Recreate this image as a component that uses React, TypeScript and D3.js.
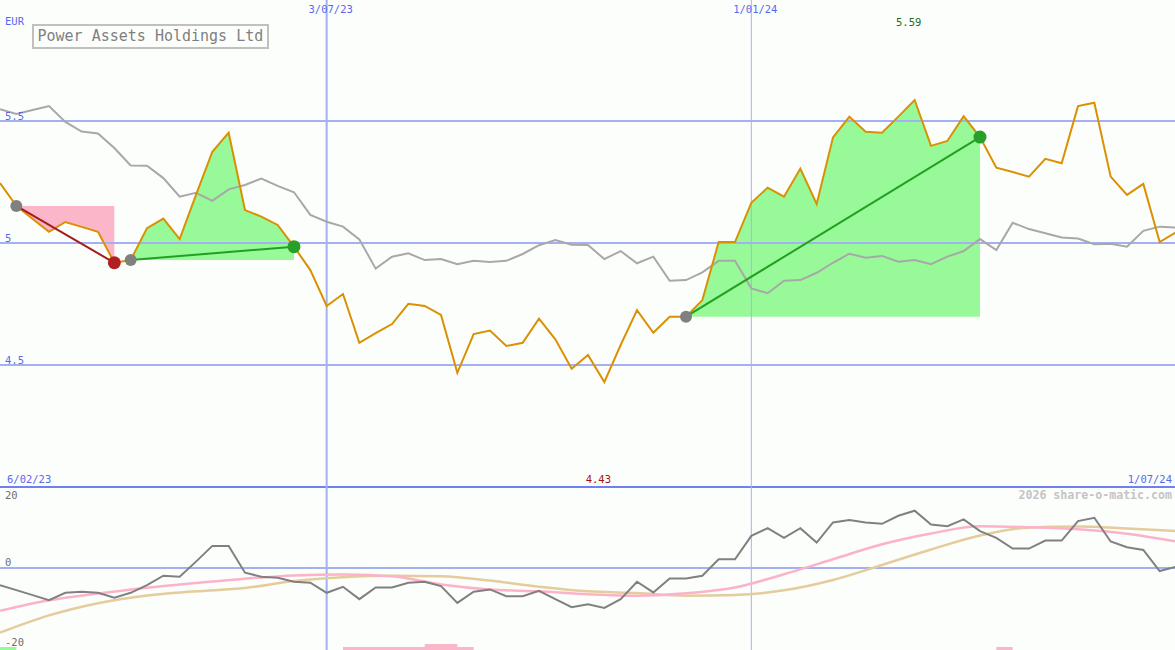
import * as d3 from 'd3';

// weekly closes, index 0 = first week on the chart
const price = [
  5.246, 5.152, 5.098, 5.046, 5.086, 5.066, 5.046, 4.919, 4.93, 5.061,
  5.1, 5.016, 5.197, 5.374, 5.452, 5.135, 5.108, 5.074, 4.985, 4.889,
  4.742, 4.791, 4.591, 4.631, 4.668, 4.751, 4.742, 4.705, 4.468, 4.627,
  4.641, 4.578, 4.591, 4.69, 4.605, 4.485, 4.541, 4.43, 4.582, 4.725,
  4.632, 4.698, 4.698, 4.766, 5.004, 5.004, 5.165, 5.227, 5.19, 5.305,
  5.16, 5.433, 5.518, 5.456, 5.452, 5.518, 5.586, 5.398, 5.418, 5.52,
  5.434, 5.309, 5.291, 5.272, 5.345, 5.327, 5.561, 5.575, 5.272, 5.197,
  5.242, 5.004, 5.044,
];

// relative-strength comparison line (grey), same scale as price
const relative = [
  5.548, 5.529, 5.545, 5.561, 5.496, 5.457, 5.449, 5.389, 5.318, 5.317,
  5.266, 5.19, 5.206, 5.173, 5.22, 5.238, 5.264, 5.234, 5.208, 5.115,
  5.087, 5.067, 5.015, 4.895, 4.944, 4.958, 4.93, 4.934, 4.913, 4.927,
  4.922, 4.927, 4.955, 4.991, 5.012, 4.993, 4.992, 4.934, 4.967, 4.917,
  4.944, 4.845, 4.848, 4.88, 4.927, 4.927, 4.814, 4.794, 4.845, 4.848,
  4.878, 4.919, 4.956, 4.94, 4.947, 4.923, 4.93, 4.913, 4.944, 4.967,
  5.016, 4.971, 5.083, 5.057, 5.04, 5.023, 5.018, 4.995, 4.997, 4.985,
  5.05, 5.067, 5.063,
];

// oscillator (lower panel)
const momentum = [
  -5.1, -6.6, -8.1, -9.6, -7.4, -7.1, -7.4, -8.9, -7.4, -5.1,
  -2.3, -2.6, 1.9, 6.6, 6.6, -1.4, -2.6, -2.9, -4.1, -4.4,
  -7.4, -5.6, -9.3, -5.8, -5.8, -4.4, -4.1, -5.4, -10.4, -7.1,
  -6.4, -8.4, -8.4, -6.8, -9.3, -11.7, -10.8, -11.9, -9.3, -4.1,
  -7.3, -3.1, -3.1, -2.3, 2.6, 2.6, 9.6, 11.9, 9.0, 11.9,
  7.6, 13.6, 14.3, 13.6, 13.2, 15.6, 17.1, 13.0, 12.5, 14.5,
  11.0, 9.0, 5.8, 5.8, 8.2, 8.2, 14.0, 15.0, 7.9, 6.2,
  5.4, -0.9, 0.4,
];

// smoothed averages, read every third week
const maWeeks = [0, 3, 6, 9, 12, 15, 18, 21, 24, 27, 30, 33, 36, 39, 42, 45, 48, 51, 54, 57, 60, 63, 66, 69, 72];
const maFast = [-12.75, -9.61, -7.61, -5.88, -4.48, -3.19, -2.21, -1.91, -2.48, -4.93, -6.42, -6.96, -7.82, -8.3, -7.55, -5.82, -1.85, 2.6, 7.07, 10.3, 12.45, 12.18, 11.58, 10.24, 7.91];
const maSlow = [-19.31, -14.15, -10.51, -8.18, -6.96, -5.97, -3.88, -2.75, -2.33, -2.48, -3.76, -5.58, -6.96, -7.49, -8.27, -8.06, -6.66, -3.58, 0.9, 5.52, 9.7, 12.09, 12.36, 11.79, 11.04];

// trend segments (start week, end week)
const trendFrom = [1, 8, 42];
const trendTo = [7, 18, 60];

// signal bars along the bottom edge
const sigFrom = [0, 21, 26, 61];
const sigTo = [1, 29, 28, 62];
const sigLevel = [1, 1, 2, 1];
const sigBuy = [true, false, false, false];

const priceTicks = [4.5, 5, 5.5];
const oscTicks = [20, 0, -20];
const dateLines = [
  { week: 20, label: '3/07/23', strong: true },
  { week: 46, label: '1/01/24', strong: false },
];
const startLabel = '6/02/23';
const endLabel = '1/07/24';
const title = 'Power Assets Holdings Ltd';
const currency = 'EUR';

const W = 1175;
const H = 650;
const SPLIT = 487;
const FONT = '"DejaVu Sans Mono", monospace';

export default function App() {
  const x = d3.scaleLinear().domain([0, 72]).range([0, 1176]);
  const yP = d3.scaleLinear().domain([4.5, 5.5]).range([365, 121]);
  const yO = d3.scaleLinear().domain([-20, 20]).range([635, 501]);

  const priceLine = d3.line<number>().x((_, i) => x(i)).y((d) => yP(d));
  const oscLine = d3.line<number>().x((_, i) => x(i)).y((d) => yO(d));
  const maLine = (vals: number[]) =>
    d3
      .line<number>()
      .x((_, i) => x(maWeeks[i]))
      .y((d) => yO(d))
      .curve(d3.curveMonotoneX)(vals) || '';

  const minI = d3.minIndex(price);
  const maxI = d3.maxIndex(price);

  const trends = trendFrom.map((f, k) => {
    const t = trendTo[k];
    const up = price[t] > price[f];
    const base = price[f];
    const weeks = d3.range(f, t + 1);
    const area = d3
      .area<number>()
      .x((w) => x(w))
      .y0(yP(base))
      .y1((w) => yP(price[w]))(weeks) || '';
    return { f, t, up, area };
  });

  const gridBlue = '#a3b0f2';

  return (
    <svg
      width={W}
      height={H}
      style={{ position: 'absolute', left: 0, top: 0, display: 'block', background: '#fcfefc' }}
      fontFamily={FONT}
    >
      <rect width={W} height={H} fill="#fcfefc" />

      {/* trend fills */}
      {trends.map((tr, k) => (
        <path key={'a' + k} d={tr.area} fill={tr.up ? '#97f997' : '#fcb6ca'} />
      ))}

      {/* grid */}
      {priceTicks.map((t) => (
        <line key={t} x1={0} x2={W} y1={yP(t)} y2={yP(t)} stroke={gridBlue} strokeWidth={2} />
      ))}
      <line x1={0} x2={W} y1={yO(0)} y2={yO(0)} stroke={gridBlue} strokeWidth={2} />
      <line x1={0} x2={W} y1={SPLIT} y2={SPLIT} stroke="#7080ee" strokeWidth={2} />
      {dateLines.map((d) => (
        <line
          key={d.label}
          x1={x(d.week)}
          x2={x(d.week)}
          y1={0}
          y2={H}
          stroke={d.strong ? gridBlue : '#aab2e4'}
          strokeWidth={d.strong ? 2 : 1}
        />
      ))}

      {/* price panel */}
      <path d={priceLine(relative) || ''} fill="none" stroke="#a8a8a8" strokeWidth={2} />
      <path d={priceLine(price) || ''} fill="none" stroke="#da9000" strokeWidth={2} />
      {trends.map((tr, k) => (
        <line
          key={'l' + k}
          x1={x(tr.f)}
          y1={yP(price[tr.f])}
          x2={x(tr.t)}
          y2={yP(price[tr.t])}
          stroke={tr.up ? '#22a022' : '#a41c1c'}
          strokeWidth={2}
        />
      ))}
      {trends.map((tr, k) => (
        <g key={'d' + k}>
          <circle cx={x(tr.f)} cy={yP(price[tr.f])} r={6} fill="#808080" />
          <circle cx={x(tr.t)} cy={yP(price[tr.t])} r={6.5} fill={tr.up ? '#28a028' : '#b02020'} />
        </g>
      ))}

      {/* oscillator panel */}
      <path d={maLine(maSlow)} fill="none" stroke="#e4cc9c" strokeWidth={2.5} />
      <path d={maLine(maFast)} fill="none" stroke="#fcb2c8" strokeWidth={2.5} />
      <path d={oscLine(momentum) || ''} fill="none" stroke="#808080" strokeWidth={2} />
      {sigFrom.map((f, k) => (
        <rect
          key={'s' + k}
          x={x(f)}
          width={x(sigTo[k]) - x(f)}
          y={H - sigLevel[k] * 3}
          height={sigLevel[k] * 3}
          fill={sigBuy[k] ? '#97f997' : '#fcb6ca'}
        />
      ))}

      {/* labels */}
      <g fontSize={10.5} fill="#5868f0">
        <text x={5} y={25}>{currency}</text>
        {priceTicks.map((t) => (
          <text key={t} x={5} y={yP(t) - 1}>{t}</text>
        ))}
        {dateLines.map((d) => (
          <text key={d.label} x={x(d.week) + 4} y={13} textAnchor="middle">{d.label}</text>
        ))}
        <text x={7} y={483}>{startLabel}</text>
        <text x={1172} y={483} textAnchor="end">{endLabel}</text>
      </g>
      <text x={x(maxI) - 6} y={26} fontSize={10.5} fill="#206a20" textAnchor="middle">
        {price[maxI].toFixed(2)}
      </text>
      <text x={x(minI) - 6} y={483} fontSize={10.5} fill="#a01414" textAnchor="middle">
        {price[minI].toFixed(2)}
      </text>
      <g fontSize={10.5} fill="#707070">
        {oscTicks.map((t) => (
          <text key={t} x={5} y={t === -20 ? 646 : yO(t) - 2}>{t}</text>
        ))}
      </g>
      <text x={1172} y={499} fontSize={11.6} fontWeight="bold" fill="#c4c4c4" textAnchor="end">
        2026 share-o-matic.com
      </text>

      {/* title box */}
      <rect x={33} y={25} width={235} height={23} fill="#fcfefc" stroke="#c0c0c0" strokeWidth={2} />
      <text x={37.5} y={41} fontSize={15} fill="#808080">{title}</text>
    </svg>
  );
}
